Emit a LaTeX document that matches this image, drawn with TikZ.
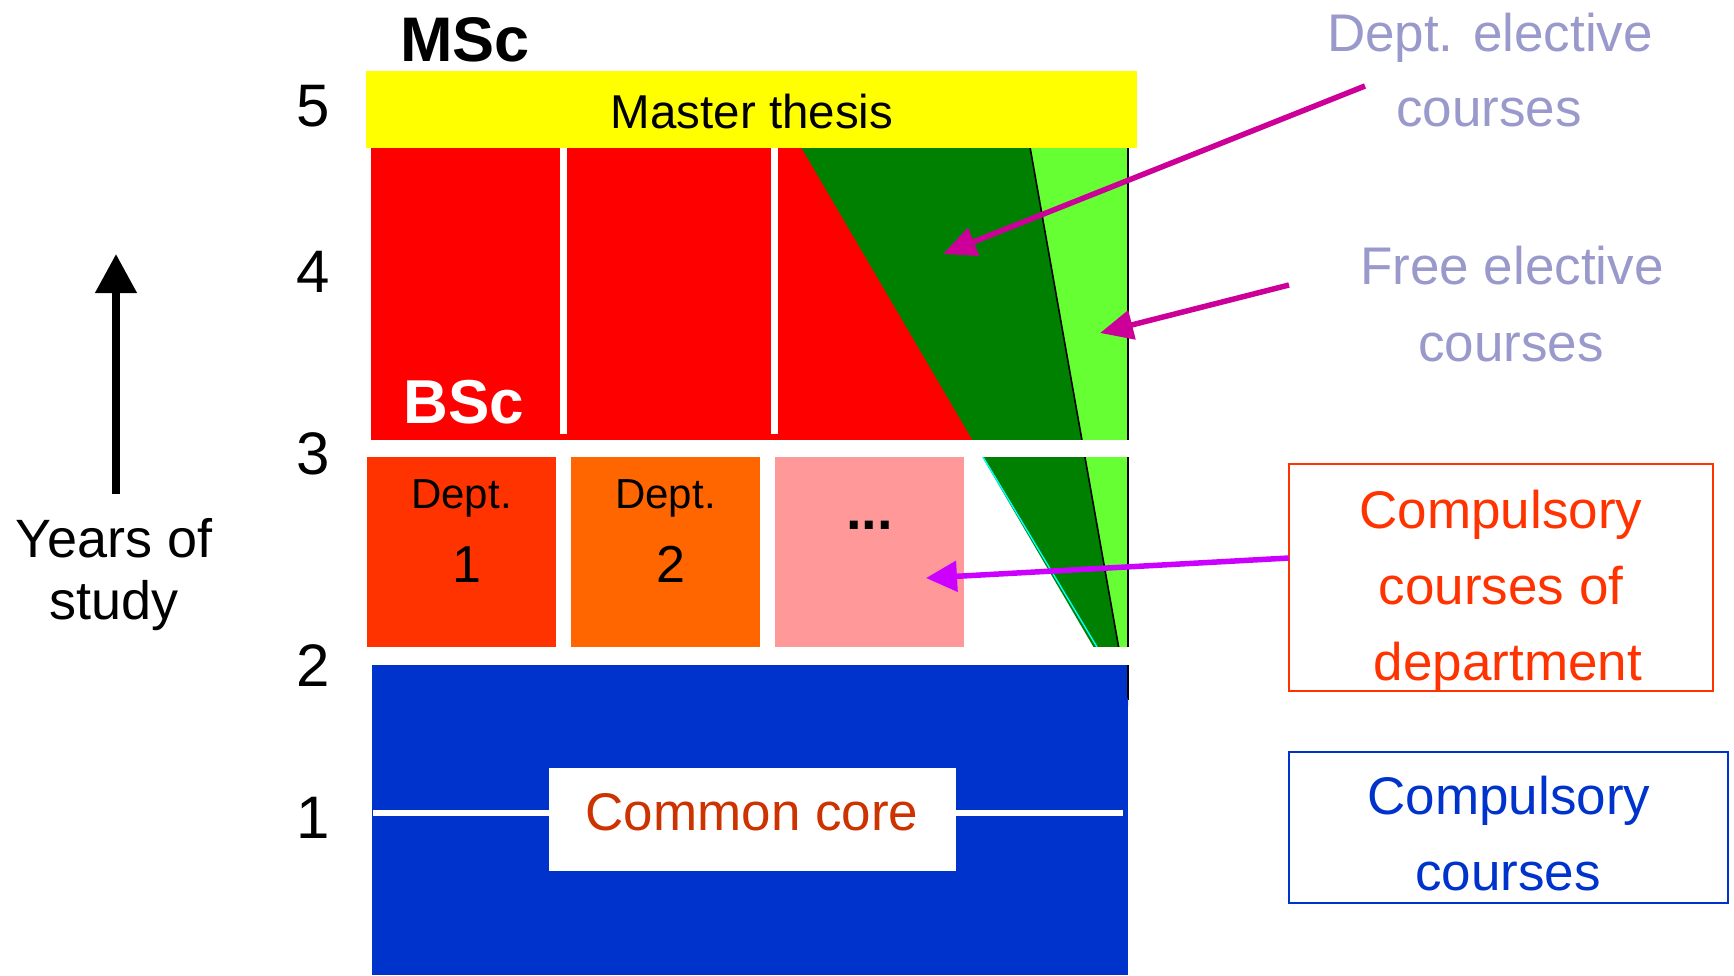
\documentclass[tikz,border=0pt]{standalone}
\usepackage{fontspec}
\setmainfont{Liberation Sans}
\usetikzlibrary{arrows.meta}
\definecolor{cRed}{HTML}{FF0000}
\definecolor{cDeptA}{HTML}{FF3300}
\definecolor{cDeptB}{HTML}{FF6600}
\definecolor{cPink}{HTML}{FF9999}
\definecolor{cDkGreen}{HTML}{008000}
\definecolor{cLtGreen}{HTML}{66FF33}
\definecolor{cBlue}{HTML}{0033CC}
\definecolor{cYellow}{HTML}{FFFF00}
\definecolor{cLav}{HTML}{9999CC}
\definecolor{cCore}{HTML}{CC3300}
\definecolor{cMag}{HTML}{CC0099}
\definecolor{cPurp}{HTML}{CC00FF}
\definecolor{cCyan}{HTML}{00FFFF}
\newcommand\fsz[1]{\fontsize{#1}{#1}\selectfont}
\tikzset{
  txt/.style={inner sep=0pt, outer sep=0pt, anchor=base},
  bigtxt/.style={txt, font=\fsz{53}},
  numtxt/.style={txt, font=\fsz{60}},
  blk/.style={inner sep=0pt, outer sep=0pt, draw=none, rectangle},
  magarrow/.style={draw=cMag, line width=5.5pt, -{Triangle[length=33pt,width=29pt]}},
  purparrow/.style={draw=cPurp, line width=5.5pt, -{Triangle[length=31pt,width=30pt]}},
  legendbox/.style={blk, draw, line width=2pt, fill=white},
}
\begin{document}
\begin{tikzpicture}[x=1pt,y=-1pt]
\useasboundingbox (0,0) rectangle (1734,975);
\fill[white] (0,0) rectangle (1734,975);

% ---- BSc upper band (years 3-5)
\fill[cRed] (371,147) rectangle (1128,440);
% dept boxes
\node[blk, fill=cDeptA, minimum width=189pt, minimum height=190pt] (d1) at (461.5,552) {};
\node[blk, fill=cDeptB, minimum width=189pt, minimum height=190pt] (d2) at (665.5,552) {};
\node[blk, fill=cPink,  minimum width=189pt, minimum height=190pt] (d3) at (869.5,552) {};
% elective wedges
\fill[cLtGreen] (1030,147) -- (1128,147) -- (1128,700) -- cycle;
\fill[cDkGreen] (801,147) -- (1030,147) -- (1128,700) -- (1128,706) -- cycle;
\draw[black, line width=1.6pt] (1030,147) -- (1128,700);
\draw[black, line width=1.6pt] (1128,147) -- (1128,700);
\draw[cCyan, line width=1.4pt] (983,457) -- (1097,647);
% white gaps and separators
\fill[white] (360,440) rectangle (1140,457);
\fill[white] (360,647) rectangle (1140,665);
\fill[white] (560,147) rectangle (567,434);
\fill[white] (771,147) rectangle (778,434);

% ---- common core
\fill[cBlue] (372,665) rectangle (1128,975);
\draw[black, line width=1.6pt] (1128,665) -- (1128,698);
\draw[white, line width=6pt] (373,813) -- (549,813);
\draw[white, line width=6pt] (956,813) -- (1123,813);
\node[blk, fill=white, minimum width=407pt, minimum height=103pt] (core) at (752.5,819.5) {};
\node[bigtxt, text=cCore] (coretxt) at (752,830) {Common core};

% ---- master thesis
\node[blk, fill=cYellow, minimum width=771pt, minimum height=77pt] (thesis) at (751.5,109.5) {};
\node[txt, font=\fsz{47.5}] (thesistxt) at (752,128) {Master thesis};
\node[txt, font=\fsz{63}\bfseries] (msc) at (465,61) {MSc};
\node[txt, font=\fsz{62}\bfseries, text=white] (bsc) at (464,423) {BSc};

% dept labels
\node[txt, font=\fsz{42}] (d1a) at (461.5,508) {Dept.};
\node[txt, font=\fsz{52}] (d1b) at (467,582) {1};
\node[txt, font=\fsz{42}] (d2a) at (665.5,508) {Dept.};
\node[txt, font=\fsz{52}] (d2b) at (671,582) {2};
\node[txt, font=\fsz{56}\bfseries] (d3a) at (869.5,529) {...};

% ---- year numbers
\node[numtxt] (y5) at (313,126) {5};
\node[numtxt] (y4) at (313,292) {4};
\node[numtxt] (y3) at (313,474) {3};
\node[numtxt] (y2) at (313,686) {2};
\node[numtxt] (y1) at (313,838) {1};

% ---- years of study arrow
\node[txt, font=\fsz{54}] (yrs1) at (114,557) {Years of};
\node[txt, font=\fsz{54}] (yrs2) at (114,619) {study};
\coordinate (ybot) at (116,494);
\coordinate (ytop) at (116,254);
\draw[line width=7.5pt, -{Triangle[length=39pt,width=40pt]}] (ybot) -- (ytop);

% ---- right-hand labels
\node[bigtxt, text=cLav] (de1) at (1490,51) {Dept. elective};
\node[bigtxt, text=cLav] (de2) at (1489,126) {courses};
\node[bigtxt, text=cLav] (fe1) at (1512,284) {Free elective};
\node[bigtxt, text=cLav] (fe2) at (1511,361) {courses};

\node[legendbox, draw=cDeptA, minimum width=424pt, minimum height=227pt] (rbox) at (1501,577.5) {};
\node[bigtxt, text=cDeptA] (rb1) at (1501,528) {Compulsory};
\node[bigtxt, text=cDeptA] (rb2) at (1501,604) {courses of};
\node[bigtxt, text=cDeptA] (rb3) at (1508,680) {department};

\node[legendbox, draw=cBlue, minimum width=439pt, minimum height=151pt] (bbox) at (1508.5,827.5) {};
\node[bigtxt, text=cBlue] (bb1) at (1509,814) {Compulsory};
\node[bigtxt, text=cBlue] (bb2) at (1508,890) {courses};

% ---- pointer arrows
\coordinate (a1s) at (1365,86);
\coordinate (a1e) at (943,254);
\coordinate (a2s) at (1289,285);
\coordinate (a2e) at (1100,333);
\coordinate (a3s) at (1289,558);
\coordinate (a3e) at (926,578);
\draw[magarrow] (a1s) -- (a1e);
\draw[magarrow] (a2s) -- (a2e);
\draw[purparrow] (a3s) -- (a3e);
\end{tikzpicture}
\end{document}
